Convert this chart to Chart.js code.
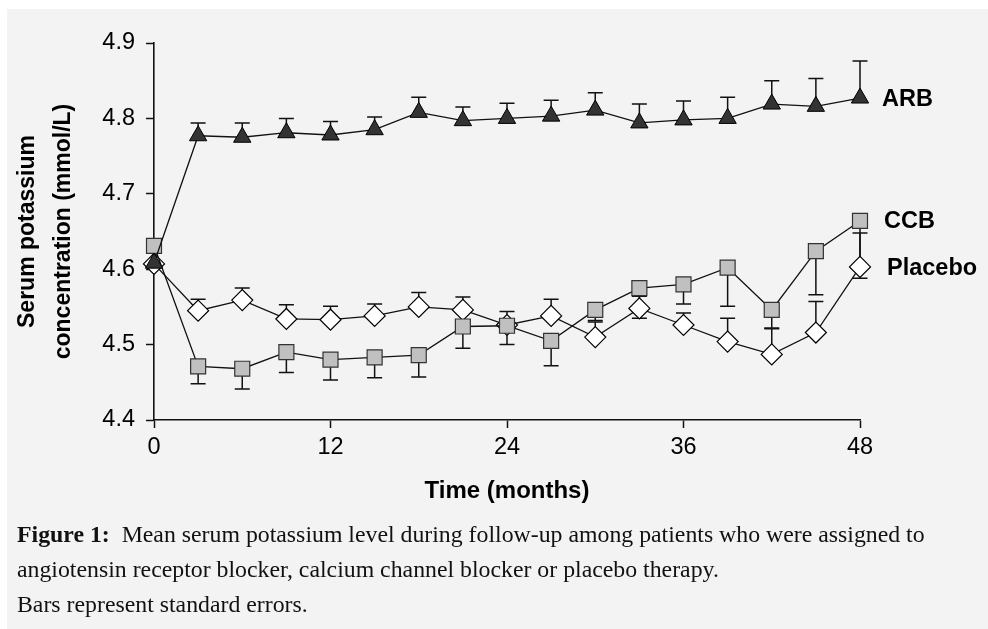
<!DOCTYPE html>
<html>
<head>
<meta charset="utf-8">
<script src="https://cdn.jsdelivr.net/npm/chart.js@4.4.1/dist/chart.umd.min.js"></script>
<style>
  html, body { margin: 0; padding: 0; background: #fff; }
  #panel { position: absolute; left: 7px; top: 9px; width: 981px; height: 620px; background: #f3f3f3; }
  #chart { position: absolute; left: 0; top: 0; }
  #caption {
    position: absolute; left: 17px; top: 517px;
    font-family: "Liberation Serif", "Times New Roman", serif;
    font-size: 23.8px; line-height: 35px; color: #111; white-space: nowrap;
  }
</style>
</head>
<body>
<div id="panel"></div>
<canvas id="chart" width="988" height="629"></canvas>
<div id="caption">
  <div><b>Figure 1:</b>&nbsp; Mean serum potassium level during follow-up among patients who were assigned to</div>
  <div>angiotensin receptor blocker, calcium channel blocker or placebo therapy.</div>
  <div>Bars represent standard errors.</div>
</div>
<script>
// follow-up visits, months
var months = [0, 3, 6, 9, 12, 15, 18, 21, 24, 27, 30, 33, 36, 39, 42, 45, 48];

// mean serum K+ (mmol/L) and standard errors per arm
var arb      = [4.608, 4.777, 4.775, 4.781, 4.778, 4.785, 4.808, 4.797, 4.800, 4.803, 4.811, 4.794, 4.798, 4.800, 4.819, 4.816, 4.827];
var arbSE    = [0, 0.017, 0.019, 0.019, 0.018, 0.017, 0.020, 0.018, 0.020, 0.021, 0.023, 0.025, 0.025, 0.028, 0.031, 0.037, 0.049];
var ccb      = [4.631, 4.471, 4.468, 4.490, 4.480, 4.483, 4.486, 4.524, 4.525, 4.505, 4.546, 4.575, 4.580, 4.602, 4.546, 4.624, 4.664];
var ccbSE    = [0, 0.023, 0.027, 0.027, 0.027, 0.027, 0.029, 0.029, 0.025, 0.033, 0.014, 0.040, 0.026, 0.051, 0.024, 0.058, 0.076];
var placebo  = [4.607, 4.545, 4.559, 4.534, 4.533, 4.538, 4.550, 4.546, 4.526, 4.538, 4.510, 4.548, 4.526, 4.504, 4.487, 4.516, 4.603];
var placeboSE = [0, 0.015, 0.016, 0.019, 0.018, 0.016, 0.019, 0.017, 0.018, 0.022, 0.020, 0.016, 0.016, 0.031, 0.034, 0.041, 0.045];

var xTicks = [0, 12, 24, 36, 48];
var yTicks = [4.4, 4.5, 4.6, 4.7, 4.8, 4.9];

var SANS = '"Liberation Sans", Arial, sans-serif';
var INK = '#111';

function points(vals) {
  return months.map(function (m, i) { return { x: m, y: vals[i] }; });
}

// one-sided SE whiskers, drawn under the markers
var errorBars = {
  id: 'errorBars',
  beforeDatasetsDraw: function (chart) {
    var ctx = chart.ctx, xs = chart.scales.x, ys = chart.scales.y;
    ctx.save();
    ctx.strokeStyle = INK;
    ctx.lineWidth = 1.5;
    chart.data.datasets.forEach(function (ds) {
      ds.data.forEach(function (p, i) {
        var se = ds.errors[i];
        if (!se) return;
        var px = xs.getPixelForValue(p.x);
        var y0 = ys.getPixelForValue(p.y);
        var y1 = ys.getPixelForValue(p.y + ds.errorDir * se);
        ctx.beginPath();
        ctx.moveTo(px, y0); ctx.lineTo(px, y1);
        ctx.moveTo(px - 7.5, y1); ctx.lineTo(px + 7.5, y1);
        ctx.stroke();
      });
    });
    ctx.restore();
  }
};

// arm names at the end of each line
var endLabels = {
  id: 'endLabels',
  afterDatasetsDraw: function (chart) {
    var ctx = chart.ctx, xs = chart.scales.x, ys = chart.scales.y;
    ctx.save();
    ctx.font = 'bold 23.5px ' + SANS;
    ctx.fillStyle = '#000';
    ctx.textBaseline = 'middle';
    chart.data.datasets.forEach(function (ds) {
      var last = ds.data[ds.data.length - 1];
      ctx.fillText(ds.label, xs.getPixelForValue(last.x) + ds.labelDx, ys.getPixelForValue(last.y) + ds.labelDy);
    });
    ctx.restore();
  }
};

var lineStyle = { borderColor: INK, borderWidth: 1.3, tension: 0, clip: false, pointHoverRadius: 0 };

new Chart(document.getElementById('chart'), {
  type: 'line',
  data: {
    datasets: [
      Object.assign({
        label: 'ARB', data: points(arb), errors: arbSE, errorDir: 1, labelDx: 22, labelDy: 1,
        pointStyle: 'triangle', pointRadius: 10, pointBackgroundColor: '#333', pointBorderColor: '#000', pointBorderWidth: 1
      }, lineStyle),
      Object.assign({
        label: 'CCB', data: points(ccb), errors: ccbSE, errorDir: -1, labelDx: 24, labelDy: 1,
        pointStyle: 'rect', pointRadius: 10.6, pointBackgroundColor: '#c0c0c0', pointBorderColor: '#333', pointBorderWidth: 1.2
      }, lineStyle),
      Object.assign({
        label: 'Placebo', data: points(placebo), errors: placeboSE, errorDir: 1, labelDx: 27, labelDy: 2,
        pointStyle: 'rectRot', pointRadius: 10.5, pointBackgroundColor: '#fff', pointBorderColor: '#000', pointBorderWidth: 1.2
      }, lineStyle)
    ]
  },
  options: {
    responsive: false,
    devicePixelRatio: 1,
    animation: false,
    layout: { padding: { left: 0, top: 43, right: 128, bottom: 123 } },
    plugins: { legend: { display: false }, tooltip: { enabled: false } },
    scales: {
      x: {
        type: 'linear', min: 0, max: 48,
        afterBuildTicks: function (s) { s.ticks = xTicks.map(function (v) { return { value: v }; }); },
        afterFit: function (s) { s.height = 86; },
        grid: { drawOnChartArea: false, drawTicks: true, tickLength: 8, tickWidth: 1.5, tickColor: INK },
        border: { display: true, color: INK, width: 1.6 },
        ticks: { color: '#000', padding: 5, font: { family: SANS, size: 23.5 } },
        title: { display: true, text: 'Time (months)', color: '#000', padding: { top: 0, bottom: 0 },
                 font: { family: SANS, size: 24, weight: 'bold' } }
      },
      y: {
        type: 'linear', min: 4.4, max: 4.9,
        afterBuildTicks: function (s) { s.ticks = yTicks.map(function (v) { return { value: v }; }); },
        afterFit: function (s) { s.width = 154; },
        grid: { drawOnChartArea: false, drawTicks: true, tickLength: 8, tickWidth: 1.5, tickColor: INK },
        border: { display: true, color: INK, width: 1.6 },
        ticks: { color: '#000', padding: 11, font: { family: SANS, size: 23.5 },
                 callback: function (v) { return v.toFixed(1); } },
        title: { display: true, text: ['Serum potassium', 'concentration (mmol/L)'], color: '#000',
                 padding: { top: 10, bottom: 0 },
                 font: { family: SANS, size: 23, weight: 'bold', lineHeight: 1.55 } }
      }
    }
  },
  plugins: [errorBars, endLabels]
});
</script>
</body>
</html>
